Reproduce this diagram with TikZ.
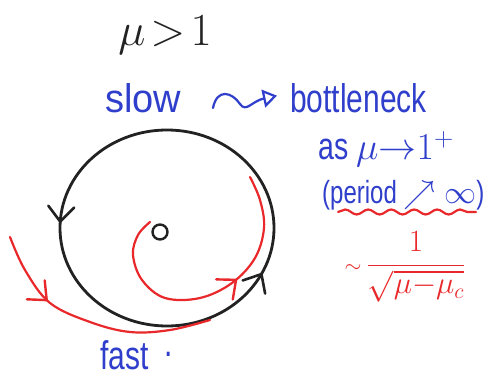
\RequirePackage{fix-cm}
\documentclass[tikz,border=0pt]{standalone}
\usepackage{fontspec}
\setmainfont{Liberation Sans}
\newfontfamily\hand[FakeStretch=0.75]{Liberation Sans}
\newfontfamily\handwide[FakeStretch=0.95]{Liberation Sans}
\usetikzlibrary{arrows.meta,decorations.markings,decorations.pathmorphing}
\definecolor{pen}{HTML}{222222}
\definecolor{bluepen}{HTML}{2F3FCB}
\definecolor{redpen}{HTML}{E8282A}
\begin{document}
\begin{tikzpicture}[x=1pt,y=-1pt,line cap=round,line join=round,
  blacktrace/.style={draw=pen,line width=2.8pt},
  redtrace/.style={draw=redpen,line width=2.2pt},
  bluetext/.style={text=bluepen,inner sep=0pt},
  vhead/.style={decoration={markings,mark=at position #1 with
     {\draw[solid,line width=2.4pt] (-15pt,-13pt) -- (0pt,0pt) -- (-15pt,13pt);}},
     postaction={decorate}}]
\useasboundingbox (0,0) rectangle (496,382);

% title
\node[text=pen,inner sep=0pt,font=\fontsize{46}{50}\selectfont] (title) at (165,35) {$\mu\!>\!1$};

% blue texts
\node[bluetext,anchor=base west,font=\handwide\fontsize{40}{44}\selectfont] (slow) at (105,113) {slow};
\node[bluetext,anchor=base west,font=\hand\fontsize{40}{44}\selectfont] (bottle) at (290,113) {bottleneck};
\coordinate (sq0) at (213,108);
\coordinate (sq1) at (240,104);
\draw[draw=bluepen,line width=2.2pt,-{Triangle[open,length=14pt,width=18pt,line width=2.2pt]}]
  (sq0) .. controls (217,88) and (232,92) .. (sq1)
  .. controls (246,113) and (252,101) .. ([xshift=-13pt,yshift=3pt]bottle.west);
\node[bluetext,anchor=base west,font=\hand\fontsize{38}{42}\selectfont] (asmu) at (318,160) {as $\mu{\rightarrow}1^{+}$};
\node[bluetext,anchor=base west,font=\hand\fontsize{32}{36}\selectfont] (period) at (322,204) {(period $\nearrow\infty$)};

% red wavy underline
\coordinate (wl) at (338,212);
\coordinate (wr) at (476,212);
\draw[redtrace,decorate,decoration={snake,amplitude=2.5pt,segment length=23pt}] (wl) -- (wr);

% red formula
\node[text=redpen,inner sep=0pt,font=\fontsize{31}{34}\selectfont] (formula) at (405,267) {$\displaystyle{\scriptstyle\sim}\,\frac{1}{\sqrt{\mu{-}\mu_c}}$};

% fast
\node[bluetext,anchor=base west,font=\hand\fontsize{40}{44}\selectfont] (fast) at (100,370) {fast\hspace{16pt}\raisebox{13pt}{.}};

% black limit cycle
\coordinate (cyc) at (167,228);
\draw[blacktrace,
  decoration={markings,
    mark=at position 0.49 with {\draw[line width=2.6pt] (-15pt,-13pt) -- (0pt,0pt) -- (-15pt,13pt);},
    mark=at position 0.925 with {\draw[line width=2.6pt] (-15pt,-13pt) -- (0pt,0pt) -- (-15pt,13pt);}},
  postaction={decorate}]
  (cyc) ++(107,0) arc[start angle=0,end angle=-360,x radius=107,y radius=98];

% fixed point
\node[draw=pen,line width=2.4pt,circle,minimum size=15pt,inner sep=0pt] (fp) at (160,232) {};

% inner red spiral
\draw[redtrace,vhead=0.6]
  plot[smooth,tension=0.6] coordinates {(150,222) (138,235) (133,255) (142,280) (165,298) (200,298) (232,283) (255,258) (264,228) (260,200) (250,177)};

% outer red trajectory
\draw[redtrace,vhead=0.3]
  plot[smooth,tension=0.6] coordinates {(10,237) (25,270) (50,303) (90,322) (130,332) (170,330) (210,320)};
\end{tikzpicture}
\end{document}
